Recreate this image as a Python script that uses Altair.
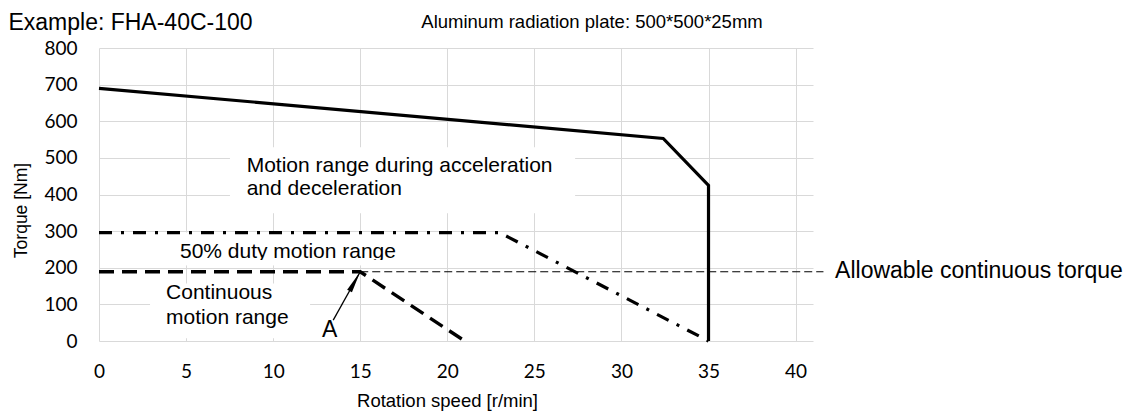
import altair as alt
import pandas as pd

# ---- axis ticks ----
speed_ticks = [0, 5, 10, 15, 20, 25, 30, 35, 40]
torque_ticks = [0, 100, 200, 300, 400, 500, 600, 700, 800]

# ---- curves (speed r/min, torque Nm) ----
accel_speed = [0, 32.4, 35, 35]
accel_torque = [690, 553, 425, 0]
duty_speed = [0, 23, 35]
duty_torque = [296, 296, 0]
cont_speed = [0, 15, 21]
cont_torque = [189, 189, 0]
allow_speed = [15, 41.6]
allow_torque = [189, 189]
arrow_speed = [13.45, 15]
arrow_torque = [57, 189]

# ---- annotation texts ----
label_texts = ["Motion range during acceleration", "and deceleration",
               "50% duty motion range", "Continuous", "motion range"]
label_speed = [8.48, 8.48, 4.65, 3.85, 3.85]
label_torque = [462, 398.6, 225.8, 114.7, 45.6]

a_text = ["A"]
a_speed = [12.8]
a_torque = [11]

allow_text = ["Allowable continuous torque"]
allow_text_speed = [42.27]
allow_text_torque = [172]

plate_text = ["Aluminum radiation plate: 500*500*25mm"]
plate_speed = [28.31]
plate_torque = [854.6]

example_text = ["Example: FHA-40C-100"]
example_speed = [-5.2]
example_torque = [848]

# white text boxes (hide grid behind labels)
box_x = [7.52, 4.08, 2.93]
box_x2 = [27.34, 17.86, 12.12]
box_y = [349, 207, 7.4]
box_y2 = [529, 296, 157]

# ---- scales / axes ----
XS = alt.Scale(domain=[0, 41], nice=False, zero=False)
YS = alt.Scale(domain=[0, 800], nice=False, zero=False)

x_axis = alt.Axis(values=speed_ticks, title="Rotation speed [r/min]", grid=True,
                  gridColor="#d9d9d9", gridWidth=1, domain=False, ticks=False, tickSize=0,
                  labelFont="Lato", labelFontSize=19, labelColor="#000000", labelPadding=21,
                  labelFlush=False, labelOverlap=False,
                  titleFont="Liberation Sans", titleFontSize=18.5, titleFontWeight="normal",
                  titleColor="#000000", titleX=348, titleY=65, titleAlign="center",
                  titleBaseline="alphabetic")
y_axis = alt.Axis(values=torque_ticks, title="Torque [Nm]", grid=True,
                  gridColor="#d9d9d9", gridWidth=1, domain=False, ticks=False, tickSize=0,
                  labelFont="Lato", labelFontSize=19, labelColor="#000000", labelPadding=22,
                  labelOverlap=False,
                  titleFont="Liberation Sans", titleFontSize=17.5, titleFontWeight="normal",
                  titleColor="#000000", titleAngle=270, titleX=-78, titleY=162,
                  titleAlign="center", titleBaseline="middle")


def X(f="x"):
    return alt.X(f, type="quantitative", scale=XS, axis=x_axis)


def Y(f="y"):
    return alt.Y(f, type="quantitative", scale=YS, axis=y_axis)


def line_df(xs, ys):
    return pd.DataFrame({"x": xs, "y": ys, "i": list(range(len(xs)))})


def text_df(t, xs, ys):
    return pd.DataFrame({"x": xs, "y": ys, "t": t})


boxes = alt.Chart(pd.DataFrame({"x": box_x, "x2": box_x2, "y": box_y, "y2": box_y2})).mark_rect(
    color="white").encode(x=X(), x2="x2:Q", y=Y(), y2="y2:Q")


def line_layer(xs, ys, width, dash=None):
    kw = dict(color="black", strokeWidth=width, strokeCap="butt", strokeJoin="miter")
    if dash is not None:
        kw["strokeDash"] = dash
    return alt.Chart(line_df(xs, ys)).mark_line(**kw).encode(x=X(), y=Y(), order="i:Q")


accel = line_layer(accel_speed, accel_torque, 3.2)
duty = line_layer(duty_speed, duty_torque, 3.2, [13, 9, 3, 9])
cont = line_layer(cont_speed, cont_torque, 3.4, [15, 8])
allow = line_layer(allow_speed, allow_torque, 1.1, [8, 4])
arrow = line_layer(arrow_speed, arrow_torque, 1.3)

arrow_head = alt.Chart(pd.DataFrame({"x": [arrow_speed[-1]], "y": [arrow_torque[-1]]})).mark_point(
    shape="M0,0 L-0.25,2 L0.25,2 Z", size=484, angle=29, filled=True, color="black",
    opacity=1, strokeWidth=0).encode(x=X(), y=Y())


def text_layer(t, xs, ys, size, align="left", font="Liberation Sans"):
    return alt.Chart(text_df(t, xs, ys)).mark_text(
        align=align, baseline="alphabetic", font=font, fontSize=size, color="black"
    ).encode(x=X(), y=Y(), text="t:N")


labels = text_layer(label_texts, label_speed, label_torque, 21)
a_lab = text_layer(a_text, a_speed, a_torque, 23)
allow_lab = text_layer(allow_text, allow_text_speed, allow_text_torque, 23)
plate_lab = text_layer(plate_text, plate_speed, plate_torque, 18.5, align="center")
example_lab = text_layer(example_text, example_speed, example_torque, 23)

# cover the descenders of "50% duty motion range" (clipped text box in the original)
cover = alt.Chart(pd.DataFrame({"x": [4.08], "x2": [17.86], "y": [207], "y2": [221]})).mark_rect(
    color="white").encode(x=X(), x2="x2:Q", y=Y(), y2="y2:Q")

chart = alt.layer(
    boxes, accel, duty, cont, allow, arrow, arrow_head,
    labels, a_lab, allow_lab, plate_lab, example_lab, cover
).properties(
    width=714, height=293,
    padding={"left": 91, "top": 40, "right": 316, "bottom": 71},
    autosize=alt.AutoSizeParams(type="none"),
    background="white",
).configure_view(strokeWidth=0)

chart.save("out.html", embed_options={"renderer": "svg", "actions": False})
